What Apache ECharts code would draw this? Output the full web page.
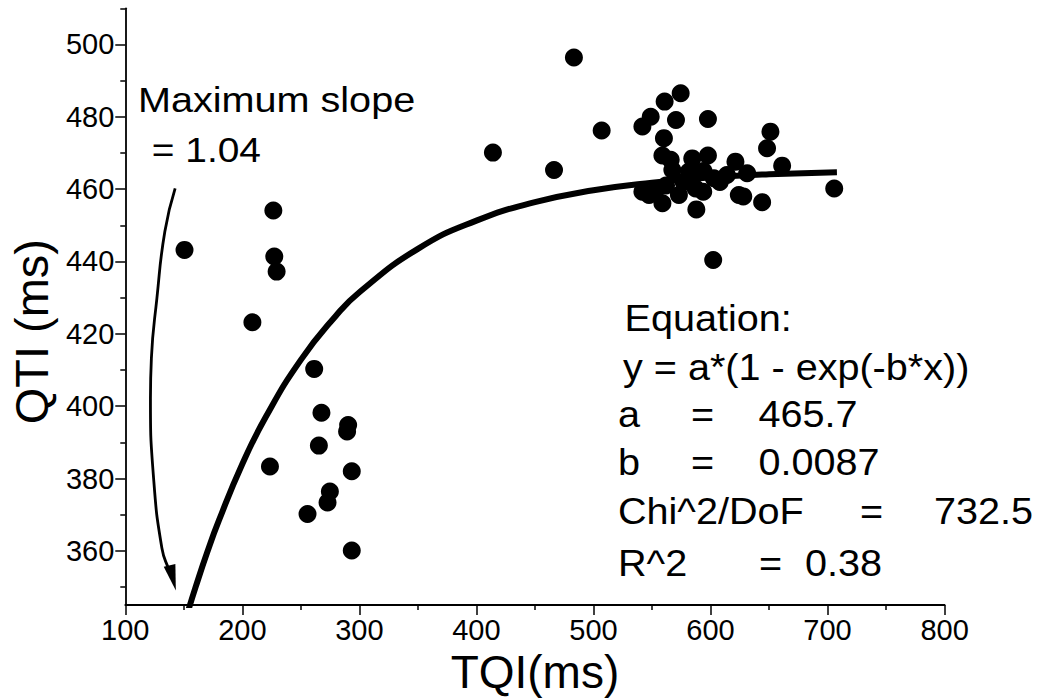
<!DOCTYPE html>
<html><head><meta charset="utf-8">
<script src="https://cdn.jsdelivr.net/npm/echarts@6/dist/echarts.min.js"></script>
<style>html,body{margin:0;padding:0;background:#fff;}#c{width:1047px;height:700px;}</style>
</head><body><div id="c"></div>
<script>
// ---- data ----
const tqi = [150.6,226.5,227.3,229.3,208.6,261.4,267.6,265.4,223.6,274.8,272.8,255.7,290.4,289.5,293.5,293.5,
  414.1,466.3,483.3,507.0,
  541.8,548.9,560.8,574.5,570.5,597.8,560.2,558.9,566.0,584.4,597.8,567.4,581.6,602.9,621.3,631.3,651.2,648.3,661.2,705.7,
  541.8,547.5,558.9,573.0,587.3,593.8,587.9,624.2,644.1,602.3,553.0,577.0,614.0,628.0,562.0,608.0,594.0];
const qti = [443.2,454.1,441.4,437.2,423.2,410.3,398.2,389.1,383.3,376.4,373.4,370.2,394.8,393.0,382.0,360.1,
  470.1,465.3,496.4,476.2,
  477.3,480.0,484.2,486.5,479.1,479.4,474.1,469.3,468.1,468.5,469.3,465.3,464.9,463.0,467.6,464.4,475.9,471.3,466.5,460.2,
  459.3,458.4,456.1,458.4,460.2,459.3,454.4,458.4,456.4,440.4,459.5,462.0,463.9,458.0,461.0,462.0,465.0];
// fitted curve
const fitX = [154,160,170,180,200,220,250,280,300,350,400,450,500,550,600,650,708];
const fitY = [343.7,349.9,359.6,368.4,384.0,397.0,412.8,425.0,431.5,443.5,451.3,456.4,459.7,461.8,463.2,464.1,464.7];
// annotation arrow path
const arrowX = [142.6,133.8,127.0,122.3,121.5,124.2,131.3,137.0,140.5];
const arrowY = [460.2,448.3,429.8,413.2,402.2,380.0,360.7,355.0,352.5];
// axes
const yLabels = [360,380,400,420,440,460,480,500];
const yMinor = [350,370,390,410,430,450,470,490,510];
const xMin = 100, xMax = 800, yMin = 345, yMax = 510;

const FF = "'Liberation Sans', Arial, Helvetica, sans-serif";
const pts = tqi.map((x,i)=>[x,qti[i]]);
const fit = fitX.map((x,i)=>[x,fitY[i]]);
const arr = arrowX.map((x,i)=>[x,arrowY[i]]);
const n = arr.length;

const chart = echarts.init(document.getElementById('c'), null, {renderer:'svg'});
function txt(t, x, y, fs, sx){
  return {type:'text', x:x, y:y, scaleX:sx, z:100,
    style:{text:t, font: fs+'px '+FF, fill:'#000', align:'left', verticalAlign:'middle'}};
}
chart.setOption({
  animation:false,
  backgroundColor:'#fff',
  grid:{left:123.3, right:102.4, top:8.3, bottom:93.3},
  xAxis:{type:'value', min:xMin, max:xMax, interval:100,
    name:'TQI(ms)', nameLocation:'middle', nameGap:36,
    nameTextStyle:{fontFamily:FF, fontSize:46, color:'#000'},
    axisLine:{lineStyle:{color:'#000', width:1.8}},
    axisTick:{length:10, lineStyle:{color:'#000', width:1.5}},
    minorTick:{show:true, splitNumber:2, length:5, lineStyle:{color:'#000', width:1.5}},
    axisLabel:{fontFamily:FF, fontSize:29, color:'#000', margin:10},
    splitLine:{show:false}},
  yAxis:[{type:'value', min:yMin, max:yMax,
    name:'QTI (ms)', nameLocation:'middle', nameGap:62,
    nameTextStyle:{fontFamily:FF, fontSize:47, color:'#000', padding:[0,50,0,0]},
    axisLine:{lineStyle:{color:'#000', width:1.8}},
    axisTick:{length:10, customValues:yLabels, lineStyle:{color:'#000', width:1.5}},
    axisLabel:{fontFamily:FF, fontSize:29, color:'#000', margin:11, customValues:yLabels},
    splitLine:{show:false}},
   {type:'value', min:yMin, max:yMax, position:'left',
    axisLine:{show:false},
    axisTick:{length:5, customValues:yMinor, lineStyle:{color:'#000', width:1.5}},
    axisLabel:{show:false}, splitLine:{show:false}}],
  series:[
    {type:'line', data:fit, smooth:true, showSymbol:false, clip:true,
     lineStyle:{color:'#000', width:6}, z:3},
    {type:'scatter', data:pts, symbol:'circle', symbolSize:18,
     itemStyle:{color:'#000', opacity:1}, z:4},
    {type:'line', data:arr, smooth:true, showSymbol:false, clip:false,
     lineStyle:{color:'#000', width:2.8}, z:5},
    {type:'scatter', data:[arr[n-1]], symbol:'path://M0,0 L12,0 L6,26 Z', symbolSize:[12,26],
     symbolRotate:14, itemStyle:{color:'#000', opacity:1}, z:6, clip:false}
  ],
  graphic:[
    txt('Maximum slope', 138, 99.5, 36, 1.1),
    txt(' = 1.04', 141, 149.5, 36, 1.08),
    txt('Equation:', 624.5, 317.5, 37, 1.07),
    txt('y = a*(1 - exp(-b*x))', 623, 367, 37, 1.07),
    txt('a', 618, 413.5, 37, 1.07),
    txt('=', 691, 413.5, 37, 1.07),
    txt('465.7', 758.5, 413.5, 37, 1.07),
    txt('b', 618, 461.5, 37, 1.07),
    txt('=', 691, 461.5, 37, 1.07),
    txt('0.0087', 758.5, 461.5, 37, 1.07),
    txt('Chi^2/DoF', 618, 511, 37, 1.07),
    txt('=', 860, 511, 37, 1.07),
    txt('732.5', 934, 511, 37, 1.07),
    txt('R^2', 618, 562.5, 37, 1.07),
    txt('=', 759, 562.5, 37, 1.07),
    txt('0.38', 805, 562.5, 37, 1.07)
  ]
});
</script></body></html>
